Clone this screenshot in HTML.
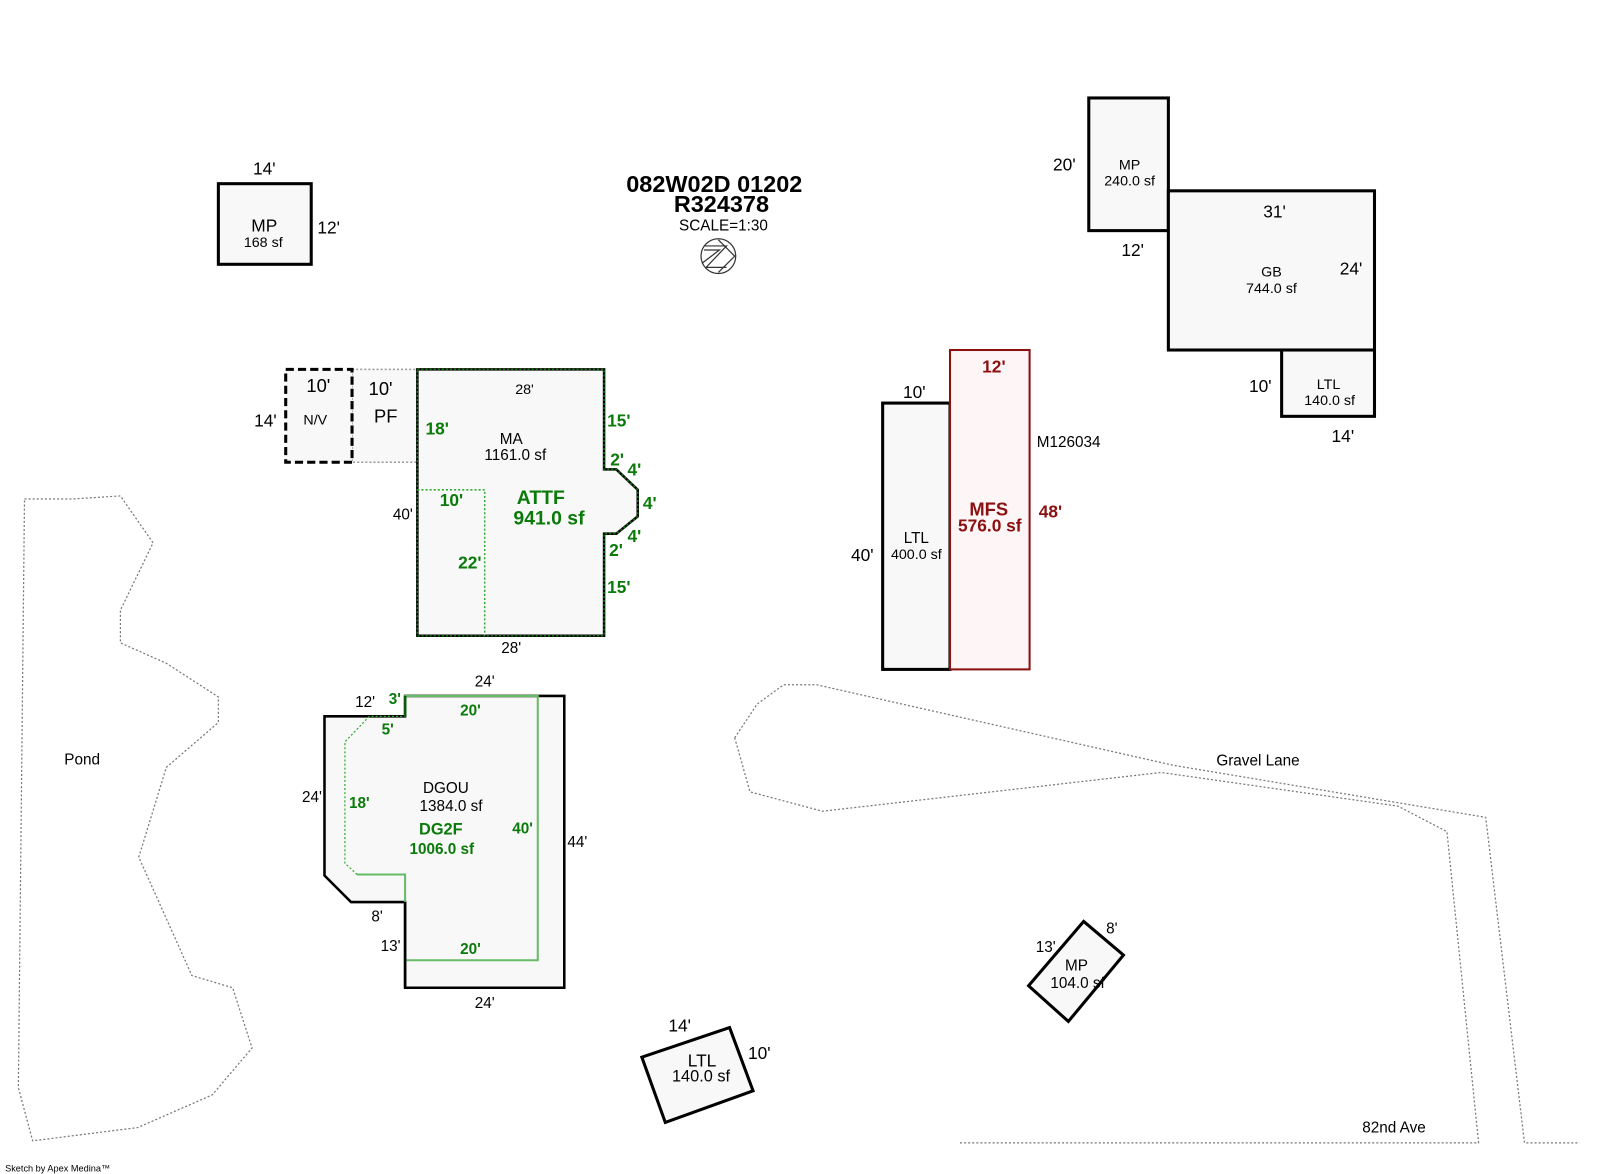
<!DOCTYPE html>
<html><head><meta charset="utf-8"><style>
html,body{margin:0;padding:0;background:#fff}
svg{display:block}
text{font-family:"Liberation Sans",sans-serif}
</style></head><body>
<svg width="1600" height="1174" viewBox="0 0 1568 1150.5" xmlns="http://www.w3.org/2000/svg">
<rect width="1600" height="1174" fill="#fff"/>
<polyline points="24,489 70,489 118,486 150,532 118,598 118,630 163,650 214,683 214,708 163,752 136,840 188,956 228,968 247,1027 208,1073 135,1105 32,1118 18,1066 24,489" fill="none" stroke="#777" stroke-width="1.2" stroke-dasharray="2,2"/>
<text x="63" y="749" font-size="15">Pond</text>
<polyline points="720,723 742,690 768,671 800,671 1150,750 1456,801 1494,1120 1548,1120" fill="none" stroke="#777" stroke-width="1.2" stroke-dasharray="2,2"/>
<polyline points="720,723 735,776 806,795 1138,757 1370,790 1418,815 1449,1120 940,1120" fill="none" stroke="#777" stroke-width="1.2" stroke-dasharray="2,2"/>
<text x="1192" y="750" font-size="15">Gravel Lane</text>
<text x="1335" y="1110" font-size="15">82nd Ave</text>
<text x="700" y="188" font-size="23" font-weight="bold" text-anchor="middle">082W02D 01202</text>
<text x="707" y="208" font-size="23" font-weight="bold" text-anchor="middle">R324378</text>
<text x="709" y="226" font-size="15" text-anchor="middle">SCALE=1:30</text>
<g fill="none" stroke="#333" stroke-width="1.2">
<circle cx="704" cy="251" r="17"/>
<polyline points="690,241 712,241 692,262 712,262"/>
<polyline points="690,245 705,245 688,258"/>
<polyline points="704,235 720,251 704,267"/>
</g>
<rect x="214" y="180" width="91" height="79" fill="#f8f8f8" stroke="#000" stroke-width="3"/>
<text x="259" y="171" font-size="17" text-anchor="middle">14'</text>
<text x="311" y="229" font-size="17">12'</text>
<text x="259" y="227" font-size="17" text-anchor="middle">MP</text>
<text x="258" y="242" font-size="14" text-anchor="middle">168 sf</text>
<rect x="345" y="362" width="64" height="91" fill="#f8f8f8" stroke="#999" stroke-width="1.5" stroke-dasharray="2,2"/>
<rect x="280" y="362" width="65" height="91" fill="#f8f8f8" stroke="#000" stroke-width="3" stroke-dasharray="8,4"/>
<text x="312" y="384" font-size="18" text-anchor="middle">10'</text>
<text x="309" y="416" font-size="14" text-anchor="middle">N/V</text>
<text x="249" y="418" font-size="17">14'</text>
<text x="373" y="387" font-size="18" text-anchor="middle">10'</text>
<text x="378" y="414" font-size="18" text-anchor="middle">PF</text>
<polygon points="409,362 592,362 592,460 604,460 625,480 625,506 604,523 592,523 592,623 409,623" fill="#f8f8f8" stroke="#000" stroke-width="2.5"/>
<polygon points="409,362 592,362 592,460 604,460 625,480 625,506 604,523 592,523 592,623 409,623" fill="none" stroke="#0a7a0a" stroke-width="1.5" stroke-dasharray="2,2"/>
<polyline points="409,480 475,480 475,623" fill="none" stroke="#3a3" stroke-width="1.5" stroke-dasharray="2,2"/>
<text x="514" y="386" font-size="14" text-anchor="middle">28'</text>
<text x="501" y="435" font-size="15" text-anchor="middle">MA</text>
<text x="505" y="451" font-size="15" text-anchor="middle">1161.0 sf</text>
<text x="385" y="509" font-size="15">40'</text>
<text x="501" y="640" font-size="15" text-anchor="middle">28'</text>
<g fill="#0a7a0a" font-weight="bold" font-size="17">
<text x="417" y="426">18'</text>
<text x="595" y="418">15'</text>
<text x="598" y="456">2'</text>
<text x="615" y="466">4'</text>
<text x="630" y="499">4'</text>
<text x="615" y="531">4'</text>
<text x="597" y="545">2'</text>
<text x="595" y="581">15'</text>
<text x="431" y="496">10'</text>
<text x="449" y="557">22'</text>
<text x="530" y="494" font-size="19" text-anchor="middle">ATTF</text>
<text x="538" y="514" font-size="19" text-anchor="middle">941.0 sf</text>
</g>
<polygon points="318,702 397,702 397,682 553,682 553,968 397,968 397,884 344,884 318,858" fill="#f8f8f8" stroke="#000" stroke-width="2.5"/>
<polyline points="397,702 397,682 527,682 527,941 397,941 397,857 350,857" fill="none" stroke="#6b6" stroke-width="2"/>
<polyline points="350,857 338,846 338,727 362,702 397,702" fill="none" stroke="#3a3" stroke-width="1.2" stroke-dasharray="2,2"/>
<line x1="397" y1="682" x2="397" y2="702" stroke="#0a5a0a" stroke-width="2.5"/>
<line x1="397" y1="884" x2="397" y2="968" stroke="#000" stroke-width="2.5"/>
<text x="475" y="673" font-size="15" text-anchor="middle">24'</text>
<text x="348" y="693" font-size="15">12'</text>
<text x="296" y="786" font-size="15">24'</text>
<text x="556" y="830" font-size="15">44'</text>
<text x="364" y="903" font-size="15">8'</text>
<text x="373" y="932" font-size="15">13'</text>
<text x="475" y="988" font-size="15" text-anchor="middle">24'</text>
<text x="437" y="777" font-size="15" text-anchor="middle">DGOU</text>
<text x="442" y="795" font-size="15" text-anchor="middle">1384.0 sf</text>
<g fill="#0a7a0a" font-weight="bold" font-size="15">
<text x="381" y="690">3'</text>
<text x="461" y="701" text-anchor="middle">20'</text>
<text x="374" y="720">5'</text>
<text x="342" y="792">18'</text>
<text x="502" y="817">40'</text>
<text x="461" y="935" text-anchor="middle">20'</text>
<text x="432" y="818" font-size="16" text-anchor="middle">DG2F</text>
<text x="433" y="837" font-size="15" text-anchor="middle">1006.0 sf</text>
</g>
<polygon points="629,1036 715,1007 738,1069 652,1100" fill="#f8f8f8" stroke="#000" stroke-width="3"/>
<text x="655" y="1011" font-size="17">14'</text>
<text x="733" y="1038" font-size="17">10'</text>
<text x="688" y="1045" font-size="17" text-anchor="middle">LTL</text>
<text x="687" y="1060" font-size="16" text-anchor="middle">140.0 sf</text>
<rect x="865" y="395" width="66" height="261" fill="#f8f8f8" stroke="#000" stroke-width="3"/>
<rect x="931" y="343" width="78" height="313" fill="#fdf5f6" stroke="#8b1010" stroke-width="2"/>
<text x="896" y="390" font-size="17" text-anchor="middle">10'</text>
<text x="834" y="550" font-size="17">40'</text>
<text x="898" y="532" font-size="15" text-anchor="middle">LTL</text>
<text x="898" y="548" font-size="14" text-anchor="middle">400.0 sf</text>
<g fill="#8b1010" font-weight="bold">
<text x="974" y="365" font-size="17" text-anchor="middle">12'</text>
<text x="1018" y="507" font-size="17">48'</text>
<text x="969" y="505" font-size="18" text-anchor="middle">MFS</text>
<text x="970" y="521" font-size="17" text-anchor="middle">576.0 sf</text>
</g>
<text x="1016" y="438" font-size="15">M126034</text>
<rect x="1067" y="96" width="78" height="130" fill="#f8f8f8" stroke="#000" stroke-width="3"/>
<rect x="1145" y="187" width="202" height="156" fill="#f8f8f8" stroke="#000" stroke-width="3"/>
<rect x="1256" y="343" width="91" height="65" fill="#f8f8f8" stroke="#000" stroke-width="3"/>
<text x="1032" y="167" font-size="17">20'</text>
<text x="1107" y="166" font-size="14" text-anchor="middle">MP</text>
<text x="1107" y="182" font-size="14" text-anchor="middle">240.0 sf</text>
<text x="1110" y="251" font-size="17" text-anchor="middle">12'</text>
<text x="1249" y="213" font-size="17" text-anchor="middle">31'</text>
<text x="1313" y="269" font-size="17">24'</text>
<text x="1246" y="271" font-size="14" text-anchor="middle">GB</text>
<text x="1246" y="287" font-size="14" text-anchor="middle">744.0 sf</text>
<text x="1224" y="384" font-size="17">10'</text>
<text x="1302" y="381" font-size="14" text-anchor="middle">LTL</text>
<text x="1303" y="397" font-size="14" text-anchor="middle">140.0 sf</text>
<text x="1316" y="433" font-size="17" text-anchor="middle">14'</text>
<polygon points="1008,966 1062,903 1101,936 1047,1001" fill="#f8f8f8" stroke="#000" stroke-width="3"/>
<text x="1015" y="933" font-size="15">13'</text>
<text x="1084" y="915" font-size="15">8'</text>
<text x="1055" y="951" font-size="15" text-anchor="middle">MP</text>
<text x="1056" y="968" font-size="15" text-anchor="middle">104.0 sf</text>
<text x="5" y="1148" font-size="9">Sketch by Apex Medina™</text>
</svg>
</body></html>
